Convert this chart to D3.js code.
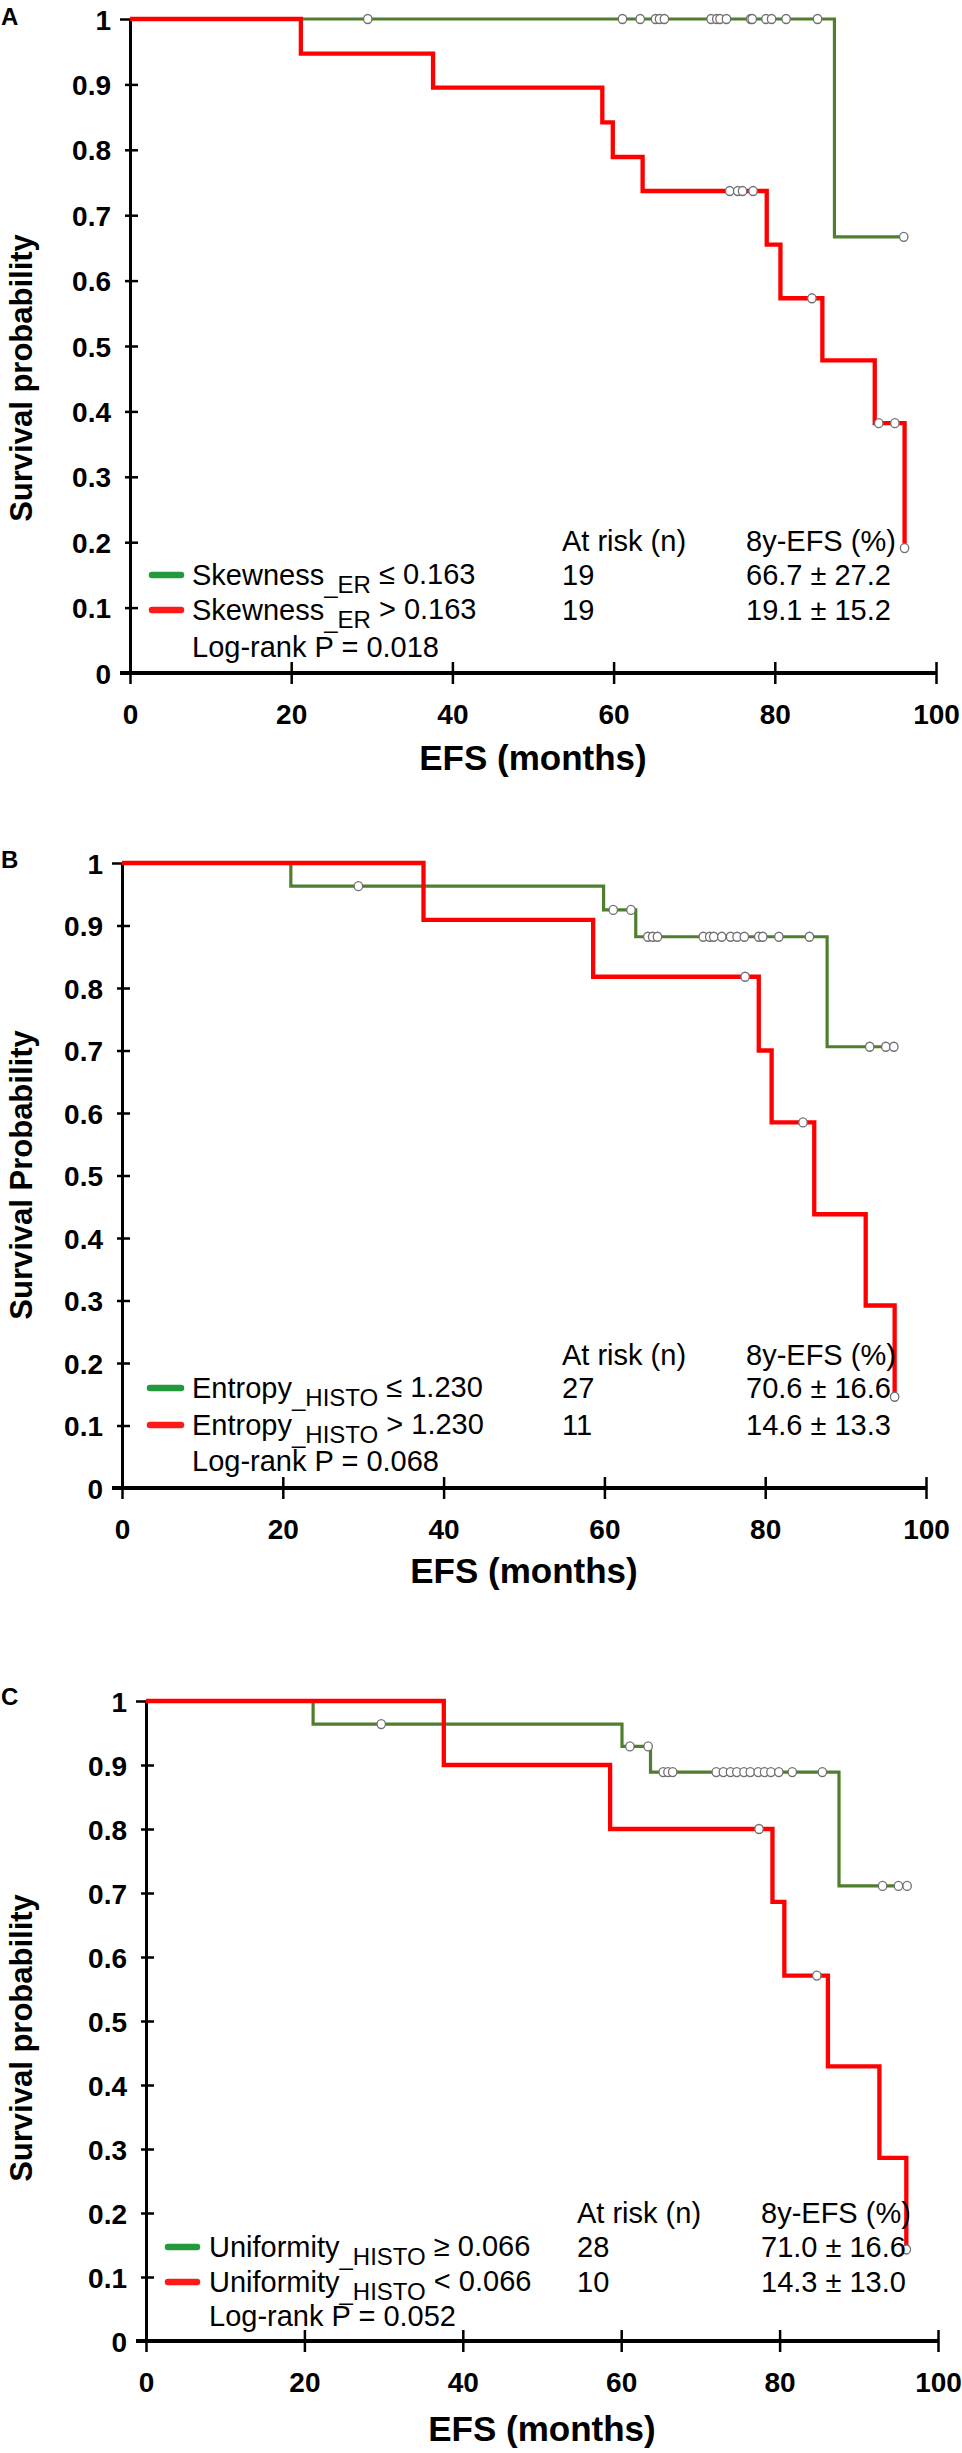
<!DOCTYPE html>
<html lang="en">
<head>
<meta charset="utf-8">
<title>EFS Kaplan-Meier curves</title>
<script src="https://d3js.org/d3.v7.min.js"></script>
<style type="text/css">
    body { margin: 0; background: #fff; }
    svg text { font-family: "Liberation Sans", Arial, sans-serif; fill: #000; }
    .axis path, .axis line { fill: none; stroke: #000; }
    .axis text { font-size: 28px; font-weight: bold; }
    .legend text { font-size: 29px; }
    .title { font-weight: bold; }
</style>
</head>
<body>
<script type="text/javascript">
var w = 962;
var h = 2453;

// axes
var xTicks = [0, 20, 40, 60, 80, 100];
var yTicks = [0, 0.1, 0.2, 0.3, 0.4, 0.5, 0.6, 0.7, 0.8, 0.9, 1];
var yTickLabels = ["0", "0.1", "0.2", "0.3", "0.4", "0.5", "0.6", "0.7", "0.8", "0.9", "1"];

// panel A - Skewness_ER
var aGreenDropT = [87.4];
var aGreenDropS = [0.667];
var aGreenCens = [29.5, 61.1, 63.3, 65.2, 65.7, 66.3, 72.1, 72.8, 73.2, 74.0, 77.0, 77.2, 78.9, 79.6, 81.4, 85.3, 96.0];
var aGreenEnd = 96.0;
var aRedDropT = [21.2, 37.6, 58.6, 59.9, 63.6, 79.0, 80.7, 85.9, 92.4, 96.1];
var aRedDropS = [0.947, 0.895, 0.842, 0.789, 0.737, 0.655, 0.573, 0.478, 0.382, 0.191];
var aRedCens = [74.4, 75.4, 76.0, 77.3, 84.6, 92.9, 94.9, 96.1];
var aRedEnd = 96.1;

// panel B - Entropy_HISTO
var bGreenDropT = [21.0, 59.9, 63.9, 87.7];
var bGreenDropS = [0.963, 0.925, 0.882, 0.706];
var bGreenCens = [29.4, 61.1, 63.3, 65.4, 66.0, 66.6, 72.3, 73.1, 73.6, 74.6, 75.7, 76.5, 77.4, 79.2, 79.7, 81.7, 85.5, 93.0, 95.0, 96.0];
var bGreenEnd = 96.0;
var bRedDropT = [37.5, 58.6, 79.2, 80.8, 86.1, 92.5, 96.1];
var bRedDropS = [0.909, 0.818, 0.70, 0.585, 0.438, 0.292, 0.146];
var bRedCens = [77.5, 84.7, 96.1];
var bRedEnd = 96.1;

// panel C - Uniformity_HISTO
var cGreenDropT = [21.1, 60.1, 63.7, 87.5];
var cGreenDropS = [0.964, 0.929, 0.889, 0.711];
var cGreenCens = [29.7, 61.1, 63.4, 65.3, 65.9, 66.5, 72.0, 72.9, 73.8, 74.6, 75.5, 76.3, 77.3, 78.1, 78.9, 79.9, 81.6, 85.4, 93.0, 95.0, 96.1];
var cGreenEnd = 96.1;
var cRedDropT = [37.6, 58.6, 79.1, 80.6, 86.1, 92.6, 96.0];
var cRedDropS = [0.90, 0.80, 0.686, 0.571, 0.429, 0.286, 0.143];
var cRedCens = [77.4, 84.7, 96.0];
var cRedEnd = 96.0;

// legend texts
var aNames = [["Skewness", "_ER", " \u2264 0.163"], ["Skewness", "_ER", " > 0.163"]];
var aAtRisk = ["19", "19"];
var aEfs = ["66.7 \u00b1 27.2", "19.1 \u00b1 15.2"];
var aP = "Log-rank P = 0.018";
var bNames = [["Entropy", "_HISTO", " \u2264 1.230"], ["Entropy", "_HISTO", " > 1.230"]];
var bAtRisk = ["27", "11"];
var bEfs = ["70.6 \u00b1 16.6", "14.6 \u00b1 13.3"];
var bP = "Log-rank P = 0.068";
var cNames = [["Uniformity", "_HISTO", " \u2265 0.066"], ["Uniformity", "_HISTO", " < 0.066"]];
var cAtRisk = ["28", "10"];
var cEfs = ["71.0 \u00b1 16.6", "14.3 \u00b1 13.0"];
var cP = "Log-rank P = 0.052";

var greenLine = "#4f7f2e";
var redLine = "#ff0000";
var greenKey = "#22993a";
var redKey = "#ff1a1a";

var panels = [
    {letter: "A", ytitle: "Survival probability", x0: 130, x1: 936, y0: 673, y1: 19,
     green: [aGreenDropT, aGreenDropS, aGreenCens, aGreenEnd], red: [aRedDropT, aRedDropS, aRedCens, aRedEnd],
     names: aNames, atRisk: aAtRisk, efs: aEfs, p: aP, yc: 378, ly: 25,
     key: [149, 184], tx: 192, nx: 562, ex: 746, rows: [541, 575, 610, 647], ty: 770},
    {letter: "B", ytitle: "Survival Probability", x0: 122, x1: 926, y0: 1488, y1: 863,
     green: [bGreenDropT, bGreenDropS, bGreenCens, bGreenEnd], red: [bRedDropT, bRedDropS, bRedCens, bRedEnd],
     names: bNames, atRisk: bAtRisk, efs: bEfs, p: bP, yc: 1175, ly: 868,
     key: [147, 184], tx: 192, nx: 562, ex: 746, rows: [1355, 1388, 1425, 1461], ty: 1583},
    {letter: "C", ytitle: "Survival probability", x0: 146, x1: 938, y0: 2341, y1: 1701,
     green: [cGreenDropT, cGreenDropS, cGreenCens, cGreenEnd], red: [cRedDropT, cRedDropS, cRedCens, cRedEnd],
     names: cNames, atRisk: cAtRisk, efs: cEfs, p: cP, yc: 2038, ly: 1705,
     key: [165, 200], tx: 209, nx: 577, ex: 761, rows: [2213, 2247, 2282, 2316], ty: 2441}
];

var svg = d3.select("body")
    .append("svg")
    .attr("width", w)
    .attr("height", h);

var survAt = function(dropT, dropS, t) {
    var k = d3.bisectRight(dropT, t);
    return k === 0 ? 1 : dropS[k - 1];
};

panels.forEach(function(p) {
    var x = d3.scaleLinear().domain([0, 100]).range([p.x0, p.x1]);
    var y = d3.scaleLinear().domain([0, 1]).range([p.y0, p.y1]);
    var g = svg.append("g");

    // y axis
    var yAxis = g.append("g")
        .attr("class", "axis")
        .attr("transform", "translate(" + p.x0 + ",0)")
        .call(d3.axisLeft(y).tickValues(yTicks).tickFormat(function(d, i) { return yTickLabels[i]; }).tickSizeOuter(0));
    yAxis.select(".domain").attr("stroke-width", 3);
    yAxis.selectAll(".tick line").attr("x1", function(d) { return d === 1 ? -10 : -5; }).attr("x2", 8).attr("stroke-width", 2.5);
    yAxis.selectAll(".tick text").attr("x", -19).attr("dy", "0.36em");

    // x axis
    var xAxis = g.append("g")
        .attr("class", "axis")
        .attr("transform", "translate(0," + p.y0 + ")")
        .call(d3.axisBottom(x).tickValues(xTicks).tickSizeOuter(0));
    xAxis.select(".domain").attr("stroke-width", 4).attr("d", "M" + (p.x0 - 10) + ",0H" + p.x1);
    xAxis.selectAll(".tick line").attr("y1", -11).attr("y2", 11).attr("stroke-width", 2.5);
    xAxis.selectAll(".tick text").attr("y", 41).attr("dy", "0.36em");

    // curves, green first then red on top
    var line = d3.line()
        .x(function(d) { return x(d[0]); })
        .y(function(d) { return y(d[1]); })
        .curve(d3.curveStepAfter);

    [[p.green, greenLine, 3.2], [p.red, redLine, 4.3]].forEach(function(s) {
        var dropT = s[0][0], dropS = s[0][1], cens = s[0][2], end = s[0][3];
        var pts = [[0, 1]];
        dropT.forEach(function(t, i) { pts.push([t, dropS[i]]); });
        pts.push([end, dropS[dropS.length - 1]]);
        g.append("path")
            .datum(pts)
            .attr("d", line)
            .attr("fill", "none")
            .attr("stroke", s[1])
            .attr("stroke-width", s[2]);
        g.selectAll(null)
            .data(cens)
            .enter()
            .append("ellipse")
            .attr("cx", function(d) { return x(d); })
            .attr("cy", function(d) { return y(survAt(dropT, dropS, d)); })
            .attr("rx", 4.2)
            .attr("ry", 4.5)
            .attr("fill", "#fff")
            .attr("stroke", "#707070")
            .attr("stroke-width", 1.3);
    });

    // legend
    var lg = g.append("g").attr("class", "legend");
    lg.append("text").attr("x", p.nx).attr("y", p.rows[0]).attr("dy", "0.36em").text("At risk (n)");
    lg.append("text").attr("x", p.ex).attr("y", p.rows[0]).attr("dy", "0.36em").text("8y-EFS (%)");
    [greenKey, redKey].forEach(function(c, i) {
        var ry = p.rows[i + 1];
        lg.append("line")
            .attr("x1", p.key[0] + 3).attr("x2", p.key[1] - 3)
            .attr("y1", ry).attr("y2", ry)
            .attr("stroke", c).attr("stroke-width", 6.5).attr("stroke-linecap", "round");
        var t = lg.append("text").attr("x", p.tx).attr("y", ry).attr("dy", "0.36em");
        t.append("tspan").text(p.names[i][0]);
        t.append("tspan").attr("dy", "0.3em").style("font-size", "24px").text(p.names[i][1]);
        t.append("tspan").attr("dy", "-0.3em").text(p.names[i][2]);
        lg.append("text").attr("x", p.nx).attr("y", ry).attr("dy", "0.36em").text(p.atRisk[i]);
        lg.append("text").attr("x", p.ex).attr("y", ry).attr("dy", "0.36em").text(p.efs[i]);
    });
    lg.append("text").attr("x", p.tx).attr("y", p.rows[3]).attr("dy", "0.36em").text(p.p);

    // titles
    g.append("text")
        .attr("class", "title")
        .attr("x", (p.x0 + p.x1) / 2)
        .attr("y", p.ty)
        .attr("text-anchor", "middle")
        .style("font-size", "35px")
        .text("EFS (months)");
    g.append("text")
        .attr("class", "title")
        .attr("transform", "translate(21," + p.yc + ") rotate(-90)")
        .attr("dy", "0.36em")
        .attr("text-anchor", "middle")
        .style("font-size", "31px")
        .text(p.ytitle);
    g.append("text")
        .attr("class", "title")
        .attr("x", 1)
        .attr("y", p.ly)
        .style("font-size", "24px")
        .text(p.letter);
});
</script>
</body>
</html>
